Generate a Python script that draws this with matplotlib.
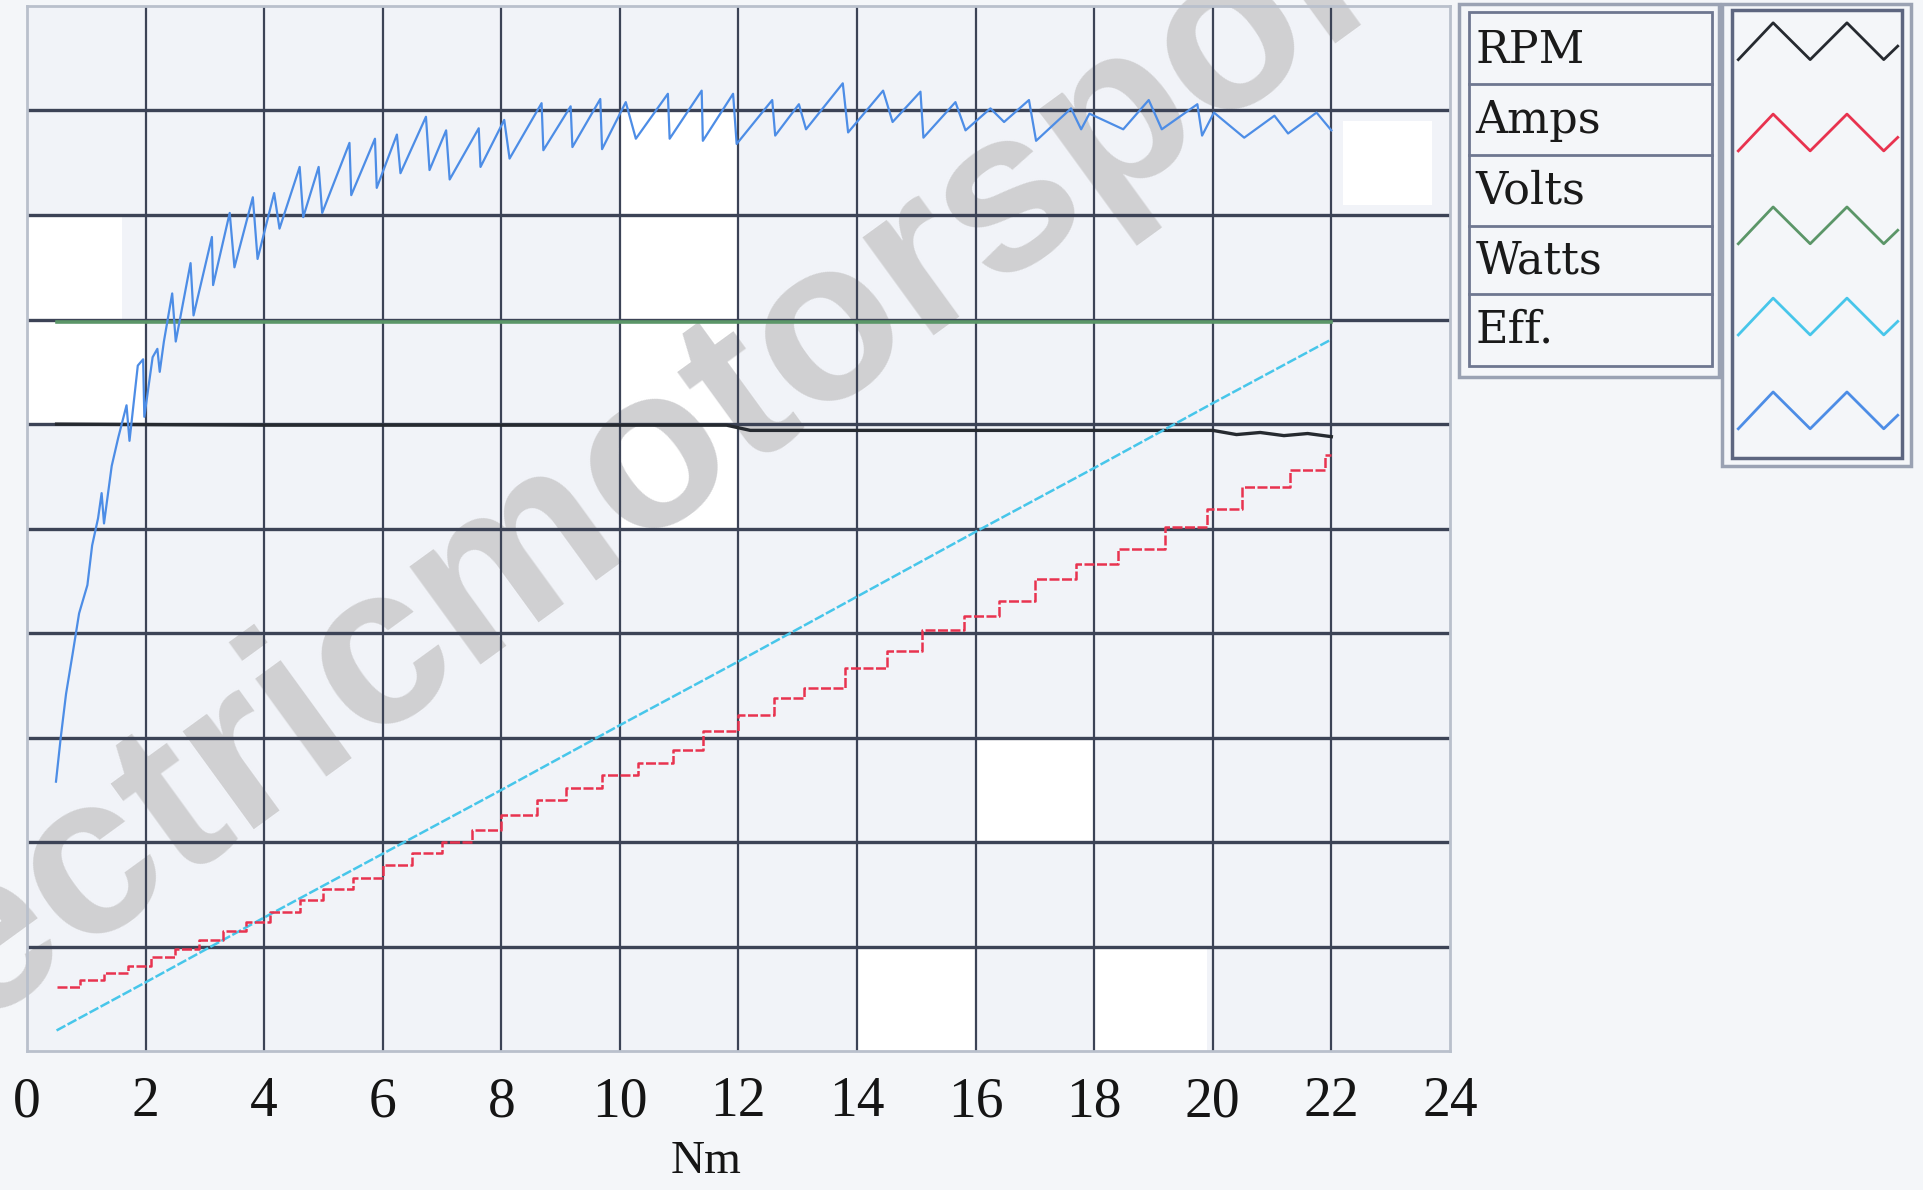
import matplotlib.pyplot as plt
from matplotlib.patches import Rectangle

# ---- data (torque in Nm on x, unlabeled chart scale 0-10 on y) ----
series_names = ['RPM', 'Amps', 'Volts', 'Watts', 'Eff.']
series_colors = ['#262a30', '#e8334f', '#5b9668', '#47c6ea', '#4d8de6']

rpm_x = [0.5, 4.0, 8.0, 11.8, 12.2, 16.0, 20.0, 20.4, 20.8, 21.2, 21.6, 22.0]
rpm_y = [6.0, 5.99, 5.99, 5.99, 5.94, 5.94, 5.94, 5.90, 5.92, 5.89, 5.91, 5.88]

amps_x = [0.5, 0.9, 1.3, 1.7, 2.1, 2.5, 2.9, 3.3, 3.7, 4.1, 4.6, 5.0, 5.5, 6.0,
          6.5, 7.0, 7.5, 8.0, 8.6, 9.1, 9.7, 10.3, 10.9, 11.4, 12.0, 12.6, 13.1,
          13.8, 14.5, 15.1, 15.8, 16.4, 17.0, 17.7, 18.4, 19.2, 19.9, 20.5, 21.3,
          21.9, 22.0]
amps_y = [0.62, 0.68, 0.75, 0.82, 0.90, 0.98, 1.07, 1.15, 1.24, 1.33, 1.45, 1.55,
          1.66, 1.78, 1.90, 2.00, 2.12, 2.26, 2.40, 2.52, 2.64, 2.76, 2.88, 3.06,
          3.22, 3.38, 3.48, 3.67, 3.83, 4.03, 4.16, 4.31, 4.52, 4.66, 4.81, 5.02,
          5.19, 5.40, 5.56, 5.70, 5.70]

volts_x = [0.5, 6.0, 12.0, 18.0, 22.0]
volts_y = [6.98, 6.98, 6.98, 6.98, 6.98]

watts_x = [0.5, 2, 4, 6, 8, 10, 12, 14, 16, 18, 20, 22]
watts_y = [0.20, 0.66, 1.28, 1.89, 2.50, 3.12, 3.73, 4.35, 4.97, 5.58, 6.20, 6.81]

eff_x = [0.49, 0.57, 0.66, 0.77, 0.88, 1.02, 1.10, 1.20, 1.26, 1.30, 1.43, 1.54,
         1.68, 1.73, 1.87, 1.96, 1.98, 2.12, 2.20, 2.24, 2.31, 2.45, 2.51, 2.76,
         2.81, 3.12, 3.14, 3.42, 3.50, 3.81, 3.89, 4.17, 4.26, 4.60, 4.66, 4.92,
         4.98, 5.44, 5.47, 5.87, 5.90, 6.24, 6.30, 6.73, 6.79, 7.07, 7.13, 7.62,
         7.65, 8.05, 8.14, 8.68, 8.71, 9.17, 9.20, 9.67, 9.70, 10.10, 10.27,
         10.81, 10.84, 11.38, 11.40, 11.91, 11.97, 12.57, 12.62, 13.02, 13.14,
         13.76, 13.85, 14.44, 14.60, 15.07, 15.12, 15.66, 15.83, 16.25, 16.48,
         16.90, 17.02, 17.61, 17.78, 17.92, 18.49, 18.92, 19.14, 19.74, 19.82,
         20.02, 20.53, 21.04, 21.27, 21.75, 22.00]
eff_y = [2.58, 3.00, 3.42, 3.80, 4.19, 4.46, 4.84, 5.10, 5.34, 5.05, 5.60, 5.87,
         6.18, 5.84, 6.56, 6.62, 6.07, 6.64, 6.72, 6.50, 6.79, 7.25, 6.79, 7.54,
         7.04, 7.79, 7.33, 8.02, 7.50, 8.17, 7.58, 8.21, 7.87, 8.46, 7.98, 8.46,
         8.02, 8.69, 8.19, 8.73, 8.26, 8.77, 8.40, 8.94, 8.43, 8.81, 8.34, 8.83,
         8.46, 8.91, 8.54, 9.07, 8.62, 9.04, 8.65, 9.11, 8.63, 9.08, 8.73,
         9.16, 8.73, 9.19, 8.71, 9.16, 8.68, 9.10, 8.76, 9.06, 8.82,
         9.26, 8.79, 9.19, 8.89, 9.18, 8.74, 9.08, 8.81, 9.02, 8.89,
         9.10, 8.71, 9.02, 8.82, 8.97, 8.82, 9.10, 8.82, 9.06, 8.76,
         8.98, 8.74, 8.95, 8.78, 8.98, 8.81]

x_ticks = [0, 2, 4, 6, 8, 10, 12, 14, 16, 18, 20, 22, 24]
y_grid = [1, 2, 3, 4, 5, 6, 7, 8, 9]


def main():
    fig = plt.figure(figsize=(19.23, 11.9), dpi=100, facecolor='#f4f6f9')

    ax = fig.add_axes([0.014, 0.1165, 0.740, 0.8785])
    # legend panel lives in a full-figure overlay (pixel-like coordinates)
    deco = fig.add_axes([0, 0, 1, 1], zorder=5)
    deco.set_xlim(0, 1568)
    deco.set_ylim(970, 0)
    deco.axis('off')

    ax.set_facecolor('#f1f3f8')
    ax.set_xlim(0, 24)
    ax.set_ylim(0, 10)

    # scan artefacts: blank white patches
    for (x0, y0, w, h) in [(0, 6, 2, 1), (0, 7, 1.6, 1), (10, 5, 2, 4),
                           (14, 0, 2, 1), (18, 0, 1.9, 1), (16, 2, 2, 1),
                           (22.2, 8.1, 1.5, 0.8)]:
        ax.add_patch(Rectangle((x0, y0), w, h, facecolor='white',
                               edgecolor='none', zorder=0.5))

    # watermark, underneath grid and curves
    ax.text(490, 405, 'electricmotorsport', transform=deco.transData,
            family='Liberation Sans', fontweight='bold', fontsize=165,
            color='#d0d0d2', rotation=36, ha='center', va='center',
            rotation_mode='anchor', zorder=0.8)

    for v in x_ticks[1:-1]:
        ax.axvline(v, color='#3c4356', lw=1.6, zorder=1)
    for h in y_grid:
        ax.axhline(h, color='#3c4356', lw=2.4, zorder=1)

    ax.plot(volts_x, volts_y, color=series_colors[2], lw=2.6, zorder=2)
    ax.plot(rpm_x, rpm_y, color=series_colors[0], lw=2.4, zorder=2)
    ax.plot(watts_x, watts_y, color=series_colors[3], lw=1.8,
            linestyle=(0, (4, 1)), zorder=3)
    ax.step(amps_x, amps_y, where='post', color=series_colors[1], lw=1.8,
            linestyle=(0, (4, 1)), zorder=3)
    ax.plot(eff_x, eff_y, color=series_colors[4], lw=1.6, zorder=4)

    ax.set_xticks(x_ticks)
    ax.set_xticklabels([str(t) for t in x_ticks], family='Liberation Serif',
                       fontsize=40, color='#151515')
    ax.tick_params(axis='x', length=0, pad=18)
    ax.set_yticks([])
    for s in ax.spines.values():
        s.set_color('#b9c0cc')
        s.set_linewidth(2)

    ax.set_xlabel('Nm', family='Liberation Serif', fontsize=34, color='#151515')
    ax.xaxis.set_label_coords(0.477, -0.085)

    deco.add_patch(Rectangle((1190, 3), 212, 304, facecolor='none',
                             edgecolor='#9aa2b3', lw=2.5))
    deco.add_patch(Rectangle((1198, 10), 198, 288, facecolor='none',
                             edgecolor='#6e7790', lw=2))
    row_lines = [68.6, 126, 184, 240]
    for r in row_lines:
        deco.plot([1198, 1396], [r, r], color='#6e7790', lw=2)
    row_centers = [40, 97, 155, 212, 268]
    for name, yc in zip(series_names, row_centers):
        deco.text(1203, yc + 1, name, family='DejaVu Serif', fontsize=32,
                  ha='left', va='center', color='#1a1a1a')

    deco.add_patch(Rectangle((1404, 3), 154, 377, facecolor='none',
                             edgecolor='#9aa2b3', lw=2.5))
    deco.add_patch(Rectangle((1412, 8), 139, 365, facecolor='none',
                             edgecolor='#5d6680', lw=2.5))
    zig_dx = [0, 28.4, 58.6, 88.6, 118.6, 130]
    zig_dy = [0, -30, 0, -30, 0, -11]
    zig_base = [48.6, 123, 198.7, 273, 349.5]
    for col, yb in zip(series_colors, zig_base):
        deco.plot([1417.4 + d for d in zig_dx], [yb + d for d in zig_dy],
                  color=col, lw=2)

    fig.savefig('out.png', dpi=100, facecolor=fig.get_facecolor())


if __name__ == "__main__":
    main()
